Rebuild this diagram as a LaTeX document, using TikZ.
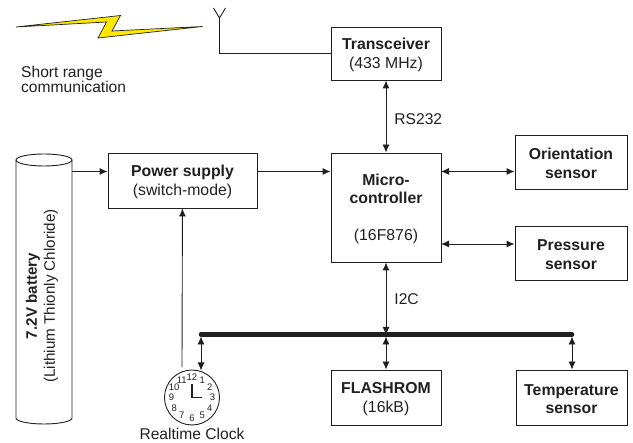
\documentclass[tikz,border=0pt]{standalone}
\usepackage{fontspec}
\setmainfont{Liberation Sans}
\usetikzlibrary{arrows.meta}
\definecolor{ink}{HTML}{202020}
\tikzset{
 x=1pt,y=-1pt,
 blockbox/.style={draw=ink,line width=0.9pt,inner sep=0pt,align=center,font=\fontsize{15.8}{18.5}\selectfont,text=ink},
 conn/.style={draw=ink,line width=0.9pt,-{Latex[length=8pt,width=7pt]}},
 bidir/.style={draw=ink,line width=0.9pt,{Latex[length=8pt,width=7pt]}-{Latex[length=8pt,width=7pt]}},
 lbl/.style={font=\fontsize{15.6}{15}\selectfont,text=ink,inner sep=0pt},
 hour/.style={font=\fontsize{9.5}{10}\selectfont,text=ink,inner sep=0pt},
}
\newcommand{\boxat}[6]{\node[blockbox,minimum width=#4,minimum height=#5] (#1) at (#2,#3) {\rule{0pt}{14pt}#6};}
\begin{document}
\begin{tikzpicture}
\useasboundingbox (0,0) rectangle (633,443);
\boxat{trans}{386}{53.5}{110pt}{53pt}{\textbf{Transceiver}\\(433 MHz)}
\boxat{micro}{386}{207.5}{110pt}{109pt}{\textbf{Micro-}\\\textbf{controller}\\[\baselineskip](16F876)}
\boxat{orient}{571}{162}{112pt}{54pt}{\textbf{Orientation}\\\textbf{sensor}}
\boxat{press}{571}{253}{112pt}{54pt}{\textbf{Pressure}\\\textbf{sensor}}
\boxat{flash}{386}{397.5}{110pt}{55pt}{\textbf{FLASHROM}\\(16kB)}
\boxat{temp}{571.5}{397.5}{111pt}{55pt}{\textbf{Temperature}\\\textbf{sensor}}
\boxat{power}{182.5}{180.5}{149pt}{55pt}{\textbf{Power supply}\\(switch-mode)}
% battery
\coordinate (battL) at (16,160);
\coordinate (battR) at (72,160);
\draw[ink,line width=0.9pt] (battL) -- (16,418) arc[start angle=180,end angle=360,x radius=28,y radius=-6] -- (battR);
\draw[ink,line width=0.9pt] (44,160) ellipse[x radius=28,y radius=6];
\node[rotate=90,align=center,font=\fontsize{15.2}{18}\selectfont,text=ink,inner sep=0pt] (batt) at (42,296) {\textbf{7.2V battery}\\(Lithium Thionly Chloride)};
\coordinate (battOut) at (72,171.5);
\draw[conn] (battOut) -- (power.west |- battOut);
\draw[conn] (power.east |- battOut) -- (micro.west |- battOut);
% radio
\coordinate (ant) at (219.5,18);
\draw[ink,line width=0.9pt] (trans.west) -- (219.5,53.5) -- (ant);
\draw[ink,line width=0.9pt] (213.5,8) -- (ant) -- (225.5,8);
\draw[ink,line width=0.7pt,fill=yellow!90!orange] (16,27) -- (120.5,15.5) -- (112,31) -- (202.5,26.5) -- (98,38) -- (106.5,22) -- cycle;
\node[lbl,align=left,anchor=west] (range) at (21,79.5) {Short range\\communication};
% links
\draw[bidir] (trans) -- node[lbl,anchor=west,xshift=8pt,pos=0.53] {RS232} (micro);
\coordinate (oy) at (441,171.5);
\coordinate (py) at (441,244);
\draw[bidir] (oy) -- (oy -| orient.west);
\draw[bidir] (py) -- (py -| press.west);
\coordinate (busL) at (201,334.5);
\coordinate (busR) at (572,334.5);
\draw[ink,line width=4.5pt,line cap=round] (busL) -- (busR);
\coordinate (busM) at (386,335);
\draw[bidir] (micro) -- node[lbl,anchor=west,xshift=8pt,pos=0.5] {I2C} (busM);
\coordinate (busT) at (386,336.5);
\draw[bidir] (busT) -- (flash);
\coordinate (tempT) at (572,336.5);
\draw[bidir] (tempT) -- (temp.north -| tempT);
% clock
\node[circle,draw=ink,line width=0.9pt,minimum size=55pt,inner sep=0pt] (clock) at (192,397.5) {};
\coordinate (clkWire) at (182,367.5);
\draw[conn] (clkWire) -- (power);
\coordinate (busLT) at (201,336.5);
\coordinate (clkTop) at (201,370.5);
\draw[bidir] (busLT) -- (clkTop);
\foreach \h in {1,...,12} {
  \node[hour] at ({192+20.5*sin(30*\h)},{397.5-20.5*cos(30*\h)}) {\h};
}
\draw[ink,line width=1.1pt] (192,384) -- (192,397.5) -- (202,397.5);
\node[lbl] (rtc) at (192,434) {Realtime Clock};
\end{tikzpicture}
\end{document}
